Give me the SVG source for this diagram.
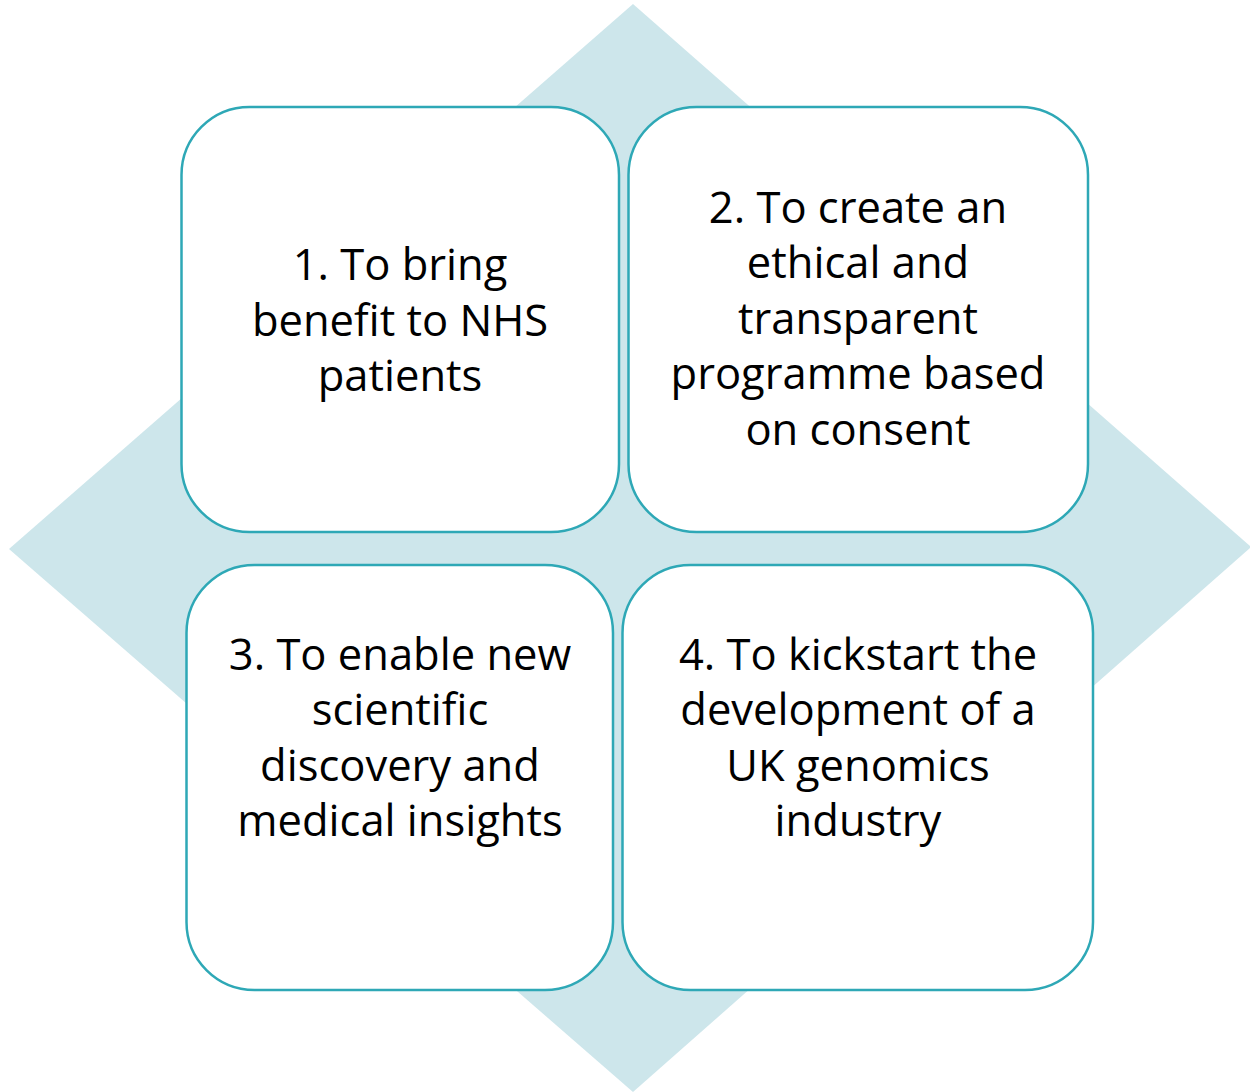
<svg xmlns="http://www.w3.org/2000/svg" width="1250" height="1092" viewBox="0 0 1250 1092">
<style>
.box{fill:#ffffff;stroke:#2EA8B6;stroke-width:2.5}
.t{font-family:"Open Sans","Liberation Sans",sans-serif;font-size:43.5px;fill:#000;text-anchor:middle}
</style>
<rect width="1250" height="1092" fill="#ffffff"/>
<g id="background">
<polygon points="633,4 1251,547 633,1092 9,549" fill="#CDE6EB"/>
</g>
<g id="node1">
<rect class="box" x="181.5" y="107" width="437.5" height="425" rx="68"/>
<text class="t" x="400" y="280">1. To bring</text>
<text class="t" x="400" y="336">benefit to NHS</text>
<text class="t" x="400" y="391">patients</text>
</g>
<g id="node2">
<rect class="box" x="628.5" y="107" width="459.5" height="425" rx="68"/>
<text class="t" x="858" y="223">2. To create an</text>
<text class="t" x="858" y="278">ethical and</text>
<text class="t" x="858" y="334">transparent</text>
<text class="t" x="858" y="389">programme based</text>
<text class="t" x="858" y="445">on consent</text>
</g>
<g id="node3">
<rect class="box" x="186.5" y="565" width="426.5" height="425" rx="68"/>
<text class="t" x="400" y="670">3. To enable new</text>
<text class="t" x="400" y="725">scientific</text>
<text class="t" x="400" y="781">discovery and</text>
<text class="t" x="400" y="836">medical insights</text>
</g>
<g id="node4">
<rect class="box" x="622.5" y="565" width="470.5" height="425" rx="68"/>
<text class="t" x="858" y="670">4. To kickstart the</text>
<text class="t" x="858" y="725">development of a</text>
<text class="t" x="858" y="781">UK genomics</text>
<text class="t" x="858" y="836">industry</text>
</g>
<g id="connectors"></g>
</svg>
